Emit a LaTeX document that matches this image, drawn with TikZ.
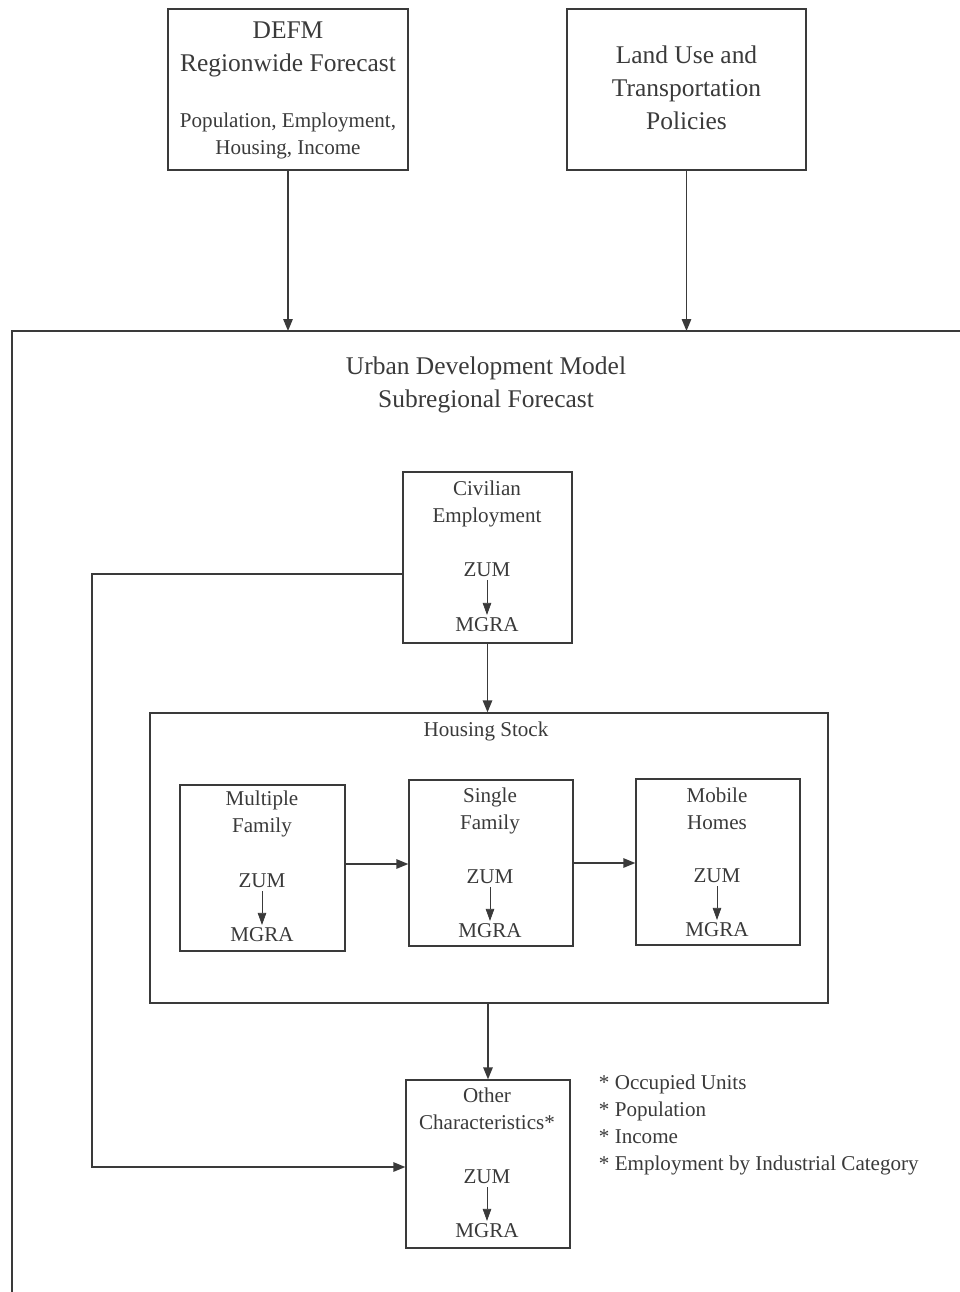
\documentclass[tikz,border=0pt]{standalone}
\usepackage{fontspec}
\setmainfont{Liberation Serif}
\usetikzlibrary{arrows.meta,positioning}
\definecolor{inkgray}{HTML}{3A3A3A}

\begin{document}
\begin{tikzpicture}[
    x=0.02cm, y=-0.02cm,
    font=\fontsize{12}{15.3}\selectfont, text=inkgray,
    box/.style={draw=inkgray, line width=0.8pt, inner sep=0pt},
    head/.style={font=\fontsize{14.5}{18.7}\selectfont, align=center, inner sep=1pt},
    item/.style={align=center, inner sep=1.5pt},
    flow/.style={-{Triangle[length=2.4mm,width=1.9mm]}, line width=0.8pt, draw=inkgray},
    zflow/.style={-{Triangle[length=2.4mm,width=1.7mm]}, line width=0.4pt, draw=inkgray}
]
\useasboundingbox (0,0) rectangle (960,1292);

\node[box, minimum width=4.8cm, minimum height=3.22cm] (defm) at (288,89.5) {};
\node[head] (defmt) at (288,49) {DEFM\\Regionwide Forecast};
\node[item] (defms) at (288,136) {Population, Employment,\\Housing, Income};

\node[box, minimum width=4.78cm, minimum height=3.22cm] (land) at (686.5,89.5) {};
\node[head] (landt) at (686.5,88) {Land Use and\\Transportation\\Policies};

\coordinate (udmtop) at (0,331);
\coordinate (udmright) at (960,331);
\coordinate (udmleft) at (12,331);
\coordinate (udmbot) at (12,1292);
\draw[inkgray, line width=0.8pt] (udmright) -- (udmleft) -- (udmbot);
\draw[flow] (defm) -- (defm.south |- udmtop);
\draw[flow] (land) -- (land.south |- udmtop);
\node[head] (udmt) at (486,385) {Urban Development Model\\Subregional Forecast};

\node[box, minimum width=3.38cm, minimum height=3.42cm] (civ) at (487.5,557.5) {};
\node[item] (civt) at (487,504) {Civilian\\Employment};
\node[item] (civz) at (487,570) {ZUM};
\node[item] (civm) at (487,625) {MGRA};
\draw[zflow] (civz) -- (civm);

\node[box, minimum width=13.56cm, minimum height=5.8cm] (stock) at (489,858) {};
\node[item] (stockt) at (486,731) {Housing Stock};
\draw[flow] (civ) -- (civ.south |- stock.north);

\node[box, minimum width=3.3cm, minimum height=3.32cm] (multi) at (262.5,868) {};
\node[item] (multit) at (262,814) {Multiple\\Family};
\node[item] (multiz) at (262,881) {ZUM};
\node[item] (multim) at (262,935) {MGRA};
\draw[zflow] (multiz) -- (multim);

\node[box, minimum width=3.28cm, minimum height=3.32cm] (single) at (491,863) {};
\node[item] (singlet) at (490,811) {Single\\Family};
\node[item] (singlez) at (490,877) {ZUM};
\node[item] (singlem) at (490,931) {MGRA};
\draw[zflow] (singlez) -- (singlem);

\node[box, minimum width=3.28cm, minimum height=3.32cm] (mobile) at (718,862) {};
\node[item] (mobilet) at (717,809) {Mobile\\Homes};
\node[item] (mobilez) at (717,876) {ZUM};
\node[item] (mobilem) at (717,930) {MGRA};
\draw[zflow] (mobilez) -- (mobilem);

\draw[flow] (multi.east |- 0,864) -- (single.west |- 0,864);
\draw[flow] (single.east |- 0,863) -- (mobile.west |- 0,863);

\node[box, minimum width=3.28cm, minimum height=3.36cm] (other) at (488,1164) {};
\node[item] (othert) at (487,1109) {Other\\Characteristics*};
\node[item] (otherz) at (487,1177) {ZUM};
\node[item] (otherm) at (487,1231) {MGRA};
\draw[zflow] (otherz) -- (otherm);
\draw[flow] (stock.south -| other.north) -- (other.north);

\node[item, align=left, anchor=west] (notes) at (596,1125) {* Occupied Units\\* Population\\* Income\\* Employment by Industrial Category};

\coordinate (loopa) at (92,574);
\coordinate (loopb) at (92,1167);
\draw[flow] (civ.west |- loopa) -- (loopa) -- (loopb) -- (other.west |- loopb);
\end{tikzpicture}
\end{document}
